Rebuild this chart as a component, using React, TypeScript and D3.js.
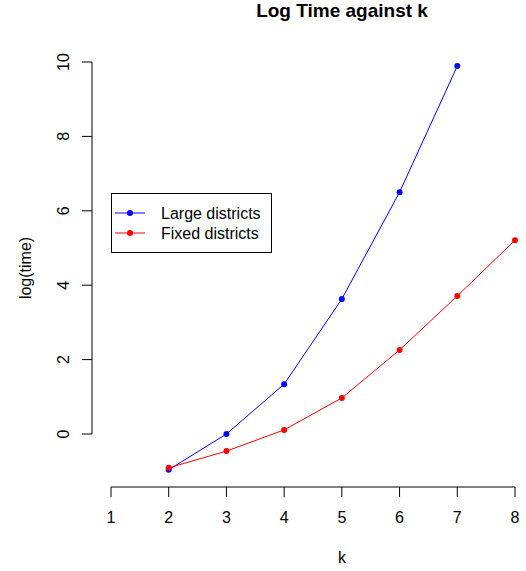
import React, { useEffect, useRef } from "react";
import * as d3 from "d3";

const ks = [1, 2, 3, 4, 5, 6, 7, 8];
const yTicks = [0, 2, 4, 6, 8, 10];
const largeK = [2, 3, 4, 5, 6, 7];
const largeLogTime = [-0.96, 0.0, 1.34, 3.63, 6.5, 9.89];
const fixedK = [2, 3, 4, 5, 6, 7, 8];
const fixedLogTime = [-0.91, -0.46, 0.11, 0.97, 2.26, 3.71, 5.21];
const seriesNames = ["Large districts", "Fixed districts"];
const seriesColors = ["#0000ff", "#ff0000"];

const W = 526;
const H = 571;
const font = "Liberation Sans, Arial, Helvetica, sans-serif";

const App = () => {
  const svgRef = useRef<SVGSVGElement>(null);

  useEffect(() => {
    const svg = d3.select(svgRef.current);
    svg.selectAll("*").remove();

    const x = d3.scaleLinear().domain([1, 8]).range([111, 515]);
    const y = d3.scaleLinear().domain([0, 10]).range([434, 62]);

    // y axis
    const yAxis = svg.append("g").attr("transform", "translate(92,0)");
    yAxis
      .append("line")
      .attr("x1", 0)
      .attr("x2", 0)
      .attr("y1", y(0))
      .attr("y2", y(10))
      .attr("stroke", "#000");
    yTicks.forEach((t) => {
      yAxis
        .append("line")
        .attr("x1", -10)
        .attr("x2", 0)
        .attr("y1", y(t))
        .attr("y2", y(t))
        .attr("stroke", "#000");
      yAxis
        .append("text")
        .attr("transform", `translate(-23,${y(t)}) rotate(-90)`)
        .attr("text-anchor", "middle")
        .attr("font-family", font)
        .attr("font-size", 16)
        .text(t);
    });

    // x axis
    const xAxis = svg.append("g").attr("transform", "translate(0,487)");
    xAxis
      .append("line")
      .attr("x1", x(1))
      .attr("x2", x(8))
      .attr("y1", 0)
      .attr("y2", 0)
      .attr("stroke", "#000");
    ks.forEach((t) => {
      xAxis
        .append("line")
        .attr("x1", x(t))
        .attr("x2", x(t))
        .attr("y1", 0)
        .attr("y2", 10)
        .attr("stroke", "#000");
      xAxis
        .append("text")
        .attr("x", x(t))
        .attr("y", 36)
        .attr("text-anchor", "middle")
        .attr("font-family", font)
        .attr("font-size", 16)
        .text(t);
    });

    // labels
    svg
      .append("text")
      .attr("x", 342)
      .attr("y", 17)
      .attr("text-anchor", "middle")
      .attr("font-family", font)
      .attr("font-weight", "bold")
      .attr("font-size", 19)
      .text("Log Time against k");
    svg
      .append("text")
      .attr("x", 342)
      .attr("y", 563)
      .attr("text-anchor", "middle")
      .attr("font-family", font)
      .attr("font-size", 16)
      .text("k");
    svg
      .append("text")
      .attr("transform", "translate(31,268) rotate(-90)")
      .attr("text-anchor", "middle")
      .attr("font-family", font)
      .attr("font-size", 16)
      .text("log(time)");

    // series
    const series = [
      { xs: largeK, ys: largeLogTime },
      { xs: fixedK, ys: fixedLogTime },
    ];
    const line = d3
      .line<[number, number]>()
      .x((d) => x(d[0]))
      .y((d) => y(d[1]));
    series.forEach((s, i) => {
      const pts: [number, number][] = s.xs.map((k, j) => [k, s.ys[j]]);
      svg
        .append("path")
        .attr("d", line(pts))
        .attr("fill", "none")
        .attr("stroke", seriesColors[i])
        .attr("stroke-width", 1);
      svg
        .append("g")
        .selectAll("circle")
        .data(pts)
        .join("circle")
        .attr("cx", (d) => x(d[0]))
        .attr("cy", (d) => y(d[1]))
        .attr("r", 3)
        .attr("fill", seriesColors[i]);
    });

    // legend
    const leg = svg.append("g");
    leg
      .append("rect")
      .attr("x", 111.5)
      .attr("y", 193.5)
      .attr("width", 160)
      .attr("height", 59)
      .attr("fill", "#fff")
      .attr("stroke", "#000");
    seriesNames.forEach((name, i) => {
      const ly = 213 + i * 20;
      leg
        .append("line")
        .attr("x1", 115)
        .attr("x2", 145)
        .attr("y1", ly)
        .attr("y2", ly)
        .attr("stroke", seriesColors[i]);
      leg
        .append("circle")
        .attr("cx", 130)
        .attr("cy", ly)
        .attr("r", 3)
        .attr("fill", seriesColors[i]);
      leg
        .append("text")
        .attr("x", 161)
        .attr("y", ly + 6)
        .attr("font-family", font)
        .attr("font-size", 16)
        .text(name);
    });
  }, []);

  return (
    <svg
      ref={svgRef}
      width={W}
      height={H}
      style={{ position: "absolute", left: 0, top: 0, background: "#fff" }}
    ></svg>
  );
};

export default App;
